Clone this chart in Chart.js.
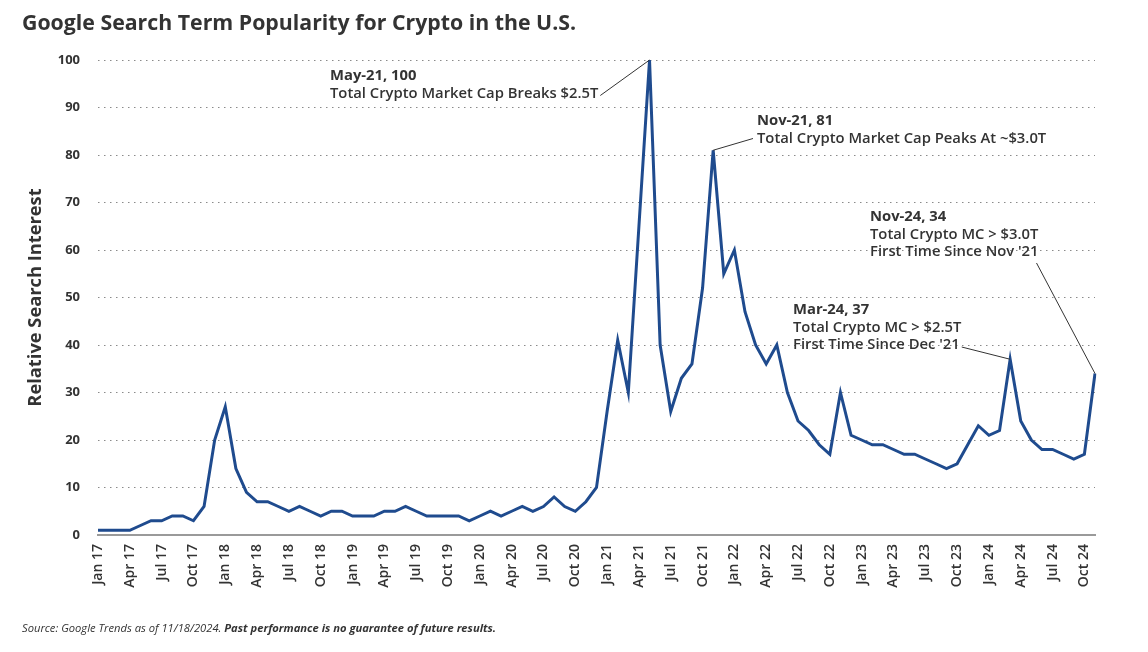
<!DOCTYPE html>
<html>
<head>
<meta charset="utf-8">
<script src="https://cdn.jsdelivr.net/npm/chart.js@4"></script>
<style>
  body { margin: 0; background: #fff; }
  #wrap { position: relative; width: 1148px; height: 652px; }
  #titre { position: absolute; left: 22px; top: 8px; font: bold 21.3px 'Open Sans', sans-serif; color: #333; line-height: 28px; white-space: nowrap; }
  #source { position: absolute; left: 22px; top: 620px; font: italic 11.2px 'Open Sans', sans-serif; color: #333; line-height: 15px; white-space: nowrap; }
  canvas { position: absolute; left: 0; top: 0; }
</style>
</head>
<body>
<div id="wrap">
  <canvas id="chartCrypto" width="1148" height="652"></canvas>
  <div id="titre">Google Search Term Popularity for Crypto in the U.S.</div>
  <div id="source">Source: Google Trends as of 11/18/2024. <b>Past performance is no guarantee of future results.</b></div>
</div>
<script>
'use strict';

/* Mois et années de l'axe X */
const MOIS = ['Jan', 'Feb', 'Mar', 'Apr', 'May', 'Jun', 'Jul', 'Aug', 'Sep', 'Oct', 'Nov', 'Dec'];
const ANNEES = ['17', '18', '19', '20', '21', '22', '23', '24'];
const NB_MOIS = 95; // Jan 17 -> Nov 24

/* Popularité mensuelle (Google Trends) */
const popularite = [
    1, 1, 1, 1, 2, 3, 3, 4, 4, 3, 6, 20,          // 2017
    27, 14, 9, 7, 7, 6, 5, 6, 5, 4, 5, 5,         // 2018
    4, 4, 4, 5, 5, 6, 5, 4, 4, 4, 4, 3,           // 2019
    4, 5, 4, 5, 6, 5, 6, 8, 6, 5, 7, 10,          // 2020
    26, 41, 30, 65, 100, 40, 26, 33, 36, 52, 81, 55, // 2021
    60, 47, 40, 36, 40, 30, 24, 22, 19, 17, 30, 21,  // 2022
    20, 19, 19, 18, 17, 17, 16, 15, 14, 15, 19, 23,  // 2023
    21, 22, 37, 24, 20, 18, 18, 17, 16, 17, 34       // 2024
];

const ticksY = [0, 10, 20, 30, 40, 50, 60, 70, 80, 90, 100];

const labels = [];
ANNEES.forEach(a => MOIS.forEach(m => labels.push(`${m} ${a}`)));
labels.length = NB_MOIS;

/* Annotations : index du mois, lignes de texte, position du texte */
const annotations = [
    { index: 52, lignes: ['May-21, 100', 'Total Crypto Market Cap Breaks $2.5T'], x: 330, y: 76, lien: 'fin' },
    { index: 58, lignes: ['Nov-21, 81', 'Total Crypto Market Cap Peaks At ~$3.0T'], x: 757, y: 121, lien: 'debut' },
    { index: 86, lignes: ['Mar-24, 37', 'Total Crypto MC > $2.5T', "First Time Since Dec '21"], x: 793, y: 310, lien: 'fin' },
    { index: 94, lignes: ['Nov-24, 34', 'Total Crypto MC > $3.0T', "First Time Since Nov '21"], x: 870, y: 217, lien: 'dessous' }
];

const pluginAnnotations = {
    id: 'annotations',
    afterDatasetsDraw(chart) {
        const ctx = chart.ctx;
        const sx = chart.scales.x, sy = chart.scales.y;
        ctx.save();
        ctx.fillStyle = '#333';
        ctx.textBaseline = 'middle';
        ctx.textAlign = 'left';
        annotations.forEach(a => {
            const px = sx.getPixelForValue(a.index);
            const py = sy.getPixelForValue(popularite[a.index]);
            const interligne = 17.5;
            let derniereLargeur = 0;
            a.lignes.forEach((txt, i) => {
                ctx.font = (i === 0 ? 'bold' : '600') + " 14.8px 'Open Sans', sans-serif";
                ctx.fillText(txt, a.x, a.y + i * interligne);
                derniereLargeur = ctx.measureText(txt).width;
            });
            const yDerniere = a.y + (a.lignes.length - 1) * interligne;
            let x0, y0;
            if (a.lien === 'fin') { x0 = a.x + derniereLargeur + 2; y0 = yDerniere + 2; }
            else if (a.lien === 'debut') { x0 = a.x - 4; y0 = yDerniere; }
            else { x0 = a.x + derniereLargeur - 2; y0 = yDerniere + 11; }
            ctx.beginPath();
            ctx.strokeStyle = '#333';
            ctx.lineWidth = 1;
            ctx.moveTo(x0, y0);
            ctx.lineTo(px, py);
            ctx.stroke();
        });
        ctx.restore();
    }
};

new Chart(document.getElementById('chartCrypto'), {
    type: 'line',
    data: {
        labels: labels,
        datasets: [{
            data: popularite,
            borderColor: '#1F4B8E',
            borderWidth: 3,
            pointRadius: 0,
            tension: 0,
            fill: false
        }]
    },
    options: {
        responsive: false,
        animation: false,
        layout: { padding: { top: 60, right: 53, bottom: 47, left: 0 } },
        plugins: {
            legend: { display: false },
            tooltip: { enabled: false }
        },
        scales: {
            x: {
                grid: { display: false, drawTicks: false },
                border: { display: true, color: '#9a9a9a', width: 2 },
                afterFit: scale => { scale.height = 70; },
                ticks: {
                    autoSkip: false,
                    maxRotation: 90,
                    minRotation: 90,
                    padding: 9,
                    color: '#333',
                    font: { family: "'Open Sans', sans-serif", size: 14, weight: '600' },
                    callback: function (val, i) { return i % 3 === 0 ? this.getLabelForValue(val) : ''; }
                }
            },
            y: {
                min: 0,
                max: 100,
                afterFit: scale => { scale.width = 98; },
                afterBuildTicks: scale => { scale.ticks = ticksY.map(v => ({ value: v })); },
                grid: { color: '#8a8a8a', lineWidth: 1, drawTicks: false },
                border: { display: false, dash: [1.5, 4.5] },
                ticks: {
                    padding: 18,
                    color: '#333',
                    font: { family: "'Open Sans', sans-serif", size: 13, weight: 'bold' }
                },
                title: {
                    display: true,
                    text: 'Relative Search Interest',
                    color: '#333',
                    padding: { top: 25, bottom: 0 },
                    font: { family: "'Open Sans', sans-serif", size: 18.3, weight: 'bold' }
                }
            }
        }
    },
    plugins: [pluginAnnotations]
});
</script>
</body>
</html>
